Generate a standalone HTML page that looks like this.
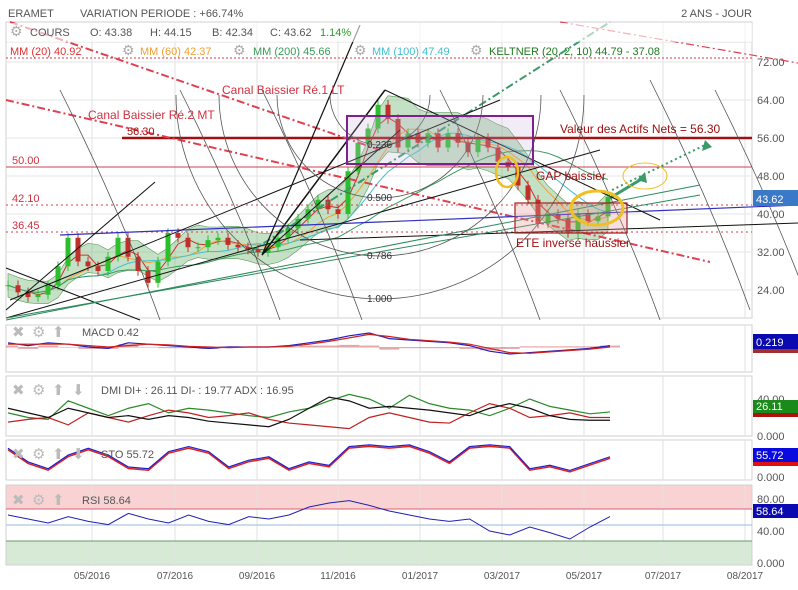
<!DOCTYPE html>
<html><head><meta charset="utf-8"><style>
body{margin:0;background:#fff}
svg{display:block;font-family:"Liberation Sans",Arial,sans-serif}
</style></head><body>
<svg id="c" width="798" height="590" viewBox="0 0 798 590" xmlns="http://www.w3.org/2000/svg">
<defs><clipPath id="pc"><rect x="6" y="22" width="746" height="544"/></clipPath></defs>
<text x="8" y="17" font-size="11" fill="#555">ERAMET</text>
<text x="80" y="17" font-size="11" fill="#555">VARIATION PERIODE : +66.74%</text>
<text x="752" y="17" font-size="11" fill="#555" text-anchor="end">2 ANS - JOUR</text>
<g id="grid"></g>
<g id="main"></g>
<g id="ind"></g>
</svg>
<script>
const closes=[25,23.5,22.5,23,25,29,35,30,29,28,31,35,31,28,25.5,30,36,35,33,33,34.5,35,33.5,33,32.5,32,33,35,37,39,41,43,41,40,49,55,58,63,60,54,57,55,57,54,57,55,53,56,54,51,50,46,43,38,40,39,36,40,38.5,39.5,43.6];
const priceTicks=[72,64,56,48,40,32,24];
const dateLabels=["05/2016","07/2016","09/2016","11/2016","01/2017","03/2017","05/2017","07/2017","08/2017"];
const macdLine=[0.3,0.1,0.3,0.2,0,-0.1,0.3,0.2,0.1,0,-0.1,0,0,0,0.1,0.3,0.5,0.8,1.0,0.6,0.5,0.4,0.3,0.1,-0.3,-0.5,-0.4,-0.3,-0.2,-0.1,0.1];
const macdSignal=[0.2,0.2,0.2,0.2,0.1,0,0.1,0.2,0.15,0.05,0,-0.05,0,0,0.05,0.2,0.4,0.65,0.9,0.75,0.55,0.45,0.35,0.2,-0.1,-0.4,-0.45,-0.35,-0.25,-0.15,0];
const diPlus=[25,20,18,38,30,22,30,35,25,30,28,25,22,20,26,30,38,45,40,30,44,35,30,28,22,30,40,32,28,24,26];
const diMinus=[15,18,20,12,25,20,15,22,28,25,20,22,25,18,14,12,10,8,20,25,20,15,14,25,35,30,20,22,25,20,20];
const adx=[30,25,20,30,25,20,22,18,22,20,16,14,12,10,18,30,42,38,30,32,30,28,25,22,30,35,30,22,18,17,17];
const sto=[80,40,20,60,80,60,25,20,70,85,70,25,45,55,20,40,30,85,90,85,90,70,40,85,90,85,20,30,15,35,55];
const rsi=[60,55,50,58,52,48,62,55,50,60,52,48,58,55,60,70,75,78,72,65,60,55,52,55,40,35,45,38,30,45,58];

const NS="http://www.w3.org/2000/svg";
function mk(par,tag,at,txt){const e=document.createElementNS(NS,tag);for(const k in at)e.setAttribute(k,at[k]);if(txt!==undefined)e.textContent=txt;par.appendChild(e);return e;}
const G=document.getElementById('grid'),M=document.getElementById('main'),I=document.getElementById('ind');
I.setAttribute('clip-path','url(#pc)');
const X0=6,X1=752;
const py=p=>62+(72-p)*4.75;
const cx=i=>8+i*10;
const ix=i=>8+i*(602/30);
const gridX=[92,175,257,338,420,502,584,663,745];

const panels=[[22,318],[325,372],[376,436],[440,480],[485,565]];
mk(G,'rect',{x:X0,y:485,width:X1-X0,height:24,fill:'#f9d3d3'});
mk(G,'rect',{x:X0,y:541,width:X1-X0,height:24,fill:'#d6ead6'});
panels.forEach(p=>{const r=mk(G,'rect',{x:X0,y:p[0],width:X1-X0,height:p[1]-p[0],fill:'none',stroke:'#d0d0d0'});
});
gridX.forEach(x=>panels.forEach(p=>mk(G,'line',{x1:x,x2:x,y1:p[0],y2:p[1],stroke:'#e2e2e2'})));
mk(G,'line',{x1:X0,x2:X1,y1:42,y2:42,stroke:'#e2e2e2'});
priceTicks.forEach(t=>{mk(G,'line',{x1:X0,x2:X1,y1:py(t),y2:py(t),stroke:'#e6e6e6'});
const l=mk(G,'text',{x:757,y:py(t)+4,'font-size':11,fill:'#555'},t.toFixed(2));
});
dateLabels.forEach((d,i)=>{const l=mk(G,'text',{x:gridX[i],y:579,'font-size':10,fill:'#555','text-anchor':'middle'},d);
});
[[399,40],[436,0],[477,0],[499,80],[531,40],[563,0]].forEach(a=>{
const l=mk(G,'text',{x:757,y:a[0]+4,'font-size':11,fill:'#555'},a[1].toFixed(a[1]===0?3:2));
});
mk(G,'line',{x1:X0,x2:X1,y1:509,y2:509,stroke:'#e06070'});
mk(G,'line',{x1:X0,x2:X1,y1:525,y2:525,stroke:'#9ab8e0'});
mk(G,'line',{x1:X0,x2:X1,y1:541,y2:541,stroke:'#6a9a6a'});

function ma(n){return closes.map((c,i)=>{let s=0,k=0;for(let j=Math.max(0,i-n+1);j<=i;j++){s+=closes[j];k++;}return s/k;});}
const band=ma(4);
let up=band.map((v,i)=>cx(i)+','+py(v*1.1)).join(' ');
let dn=band.map((v,i)=>cx(i)+','+py(v*0.9)).reverse().join(' ');
const bd=mk(M,'polygon',{points:up+' '+dn,fill:'rgba(110,180,110,0.4)',stroke:'#5a9a5a','stroke-width':0.6});

[[3,'#d03030','mm20-line'],[6,'#f0a030','mm60-line'],[10,'#40c0d0','mm100-line'],[20,'#3a9a5a','mm200-line']].forEach(m=>{
const v=ma(m[0]);const l=mk(M,'polyline',{points:v.map((y,i)=>cx(i)+','+py(y)).join(' '),fill:'none',stroke:m[1],'stroke-width':1});
});
closes.forEach((c,i)=>{const o=i?closes[i-1]:c;const x=cx(i);const hi=Math.max(o,c)+1,lo=Math.min(o,c)-1;
const col=c>=o?'#2cbf2c':'#c0302a';
mk(M,'line',{x1:x,x2:x,y1:py(hi),y2:py(lo),stroke:col});
const r=mk(M,'rect',{x:x-2.5,y:py(Math.max(o,c)),width:5,height:Math.max(1,Math.abs(py(o)-py(c))),fill:col});
});

function ln(x1,y1,x2,y2,st,w,da,name){const l=mk(M,'line',{x1,y1,x2,y2,stroke:st,'stroke-width':w||1});if(da)l.setAttribute('stroke-dasharray',da);
return l;}
ln(X0,58,X1,58,'#d04050',1,'2,2','resistance-72');
ln(X0,167,X1,167,'#d04050',1,null,'level-50');
ln(X0,205,X1,205,'#d04050',1,'2,3','level-42');
ln(X0,232,X1,232,'#d04050',1,'2,3','level-36');
ln(122,138,X1,138,'#a01010',2.5,null,'level-56-30');
ln(X0,100,710,262,'#e04050',2,'8,3,2,3','canal-re2-mt');
ln(10,22,380,150,'#e04050',2,'8,3,2,3','canal-re1-lt');
ln(560,22,798,63,'#e04050',1.2,'8,3,2,3','top-channel');
ln(250,252,610,22,'#3a9a6a',2,'8,3,2,3','green-channel');
ln(612,190,705,145,'#3a9a6a',2,'2,3','projection');
mk(M,'polygon',{points:'705,140 712,147 702,151',fill:'#3a9a6a'});
mk(M,'polygon',{points:'637,180 645,172 647,183',fill:'#3a9a6a'});
ln(610,198,640,180,'#3a9a6a',3);
ln(60,235,798,205,'#3030c0',1.2,null,'blue-trend');
ln(6,310,155,182,'#111',1);ln(6,268,140,320,'#111',1);
ln(6,318,600,150,'#111',1);ln(10,300,500,100,'#111',1);
ln(262,255,385,90,'#111',1.5);ln(262,255,360,25,'#111',1.2);ln(262,255,400,130,'#111',1);
ln(385,90,660,220,'#111',1);ln(300,240,798,223,'#111',1);
ln(6,320,700,185,'#2a8a5a',1);ln(6,318,700,195,'#2a8a5a',1);
const fc=[380,95];[50,103,161,204].forEach(r=>{const a=mk(M,'path',{d:`M${fc[0]-r},${fc[1]} A${r},${r} 0 0,0 ${fc[0]+r},${fc[1]}`,fill:'none',stroke:'#555','stroke-width':0.8});
});
[[60,90],[180,90],[262,90],[440,90],[560,90],[650,80],[715,90]].forEach(a=>{const p=mk(M,'path',{d:`M${a[0]},${a[1]} Q${a[0]+60},${a[1]+120} ${a[0]+100},${a[1]+230}`,fill:'none',stroke:'#555','stroke-width':0.8});
});
const rp=mk(M,'rect',{x:347,y:116,width:186,height:48,fill:'rgba(200,180,220,0.25)',stroke:'#802090','stroke-width':2});

const rr=mk(M,'rect',{x:515,y:203,width:112,height:30,fill:'rgba(230,150,150,0.3)',stroke:'#a02020','stroke-width':1.2});

[[507,172,11,15,2.5],[597,208,26,17,3],[645,176,22,13,1]].forEach(e=>{const el=mk(M,'ellipse',{cx:e[0],cy:e[1],rx:e[2],ry:e[3],fill:'none',stroke:'#f0c020','stroke-width':e[4]});
});
[[222,94,'Canal Baissier Ré.1 LT','#d03040',12],[88,119,'Canal Baissier Ré.2 MT','#d03040',12],[127,135,'56.30','#a01010',11],[12,164,'50.00','#d03040',11],[12,202,'42.10','#d03040',11],[12,229,'36.45','#d03040',11],
[560,133,'Valeur des Actifs Nets = 56.30','#a01010',12],[536,180,'GAP baissier','#a01010',12],[516,247,'ETE inversé haussier','#a01010',12],
[367,148,'0.236','#333',10],[367,201,'0.500','#333',10],[367,259,'0.786','#333',10],[367,302,'1.000','#333',10]].forEach(t=>{
const l=mk(M,'text',{x:t[0],y:t[1],'font-size':t[4],fill:t[3]},t[2]);});
mk(M,'rect',{x:X0+1,y:23,width:745,height:19,fill:'rgba(255,255,255,0.6)'});
[[10,36,'⚙','#aaa'],[30,36,'COURS','#555'],[90,36,'O: 43.38','#555'],[150,36,'H: 44.15','#555'],[212,36,'B: 42.34','#555'],[270,36,'C: 43.62','#555'],[320,36,'1.14%','#2a9a2a'],
[10,55,'MM (20)  40.92','#e03030'],[122,55,'⚙','#aaa'],[140,55,'MM (60)  42.37','#f0a030'],[233,55,'⚙','#aaa'],[253,55,'MM (200)  45.66','#3a9a5a'],[354,55,'⚙','#aaa'],[372,55,'MM (100)  47.49','#40c0d0'],[470,55,'⚙','#aaa'],[489,55,'KELTNER (20, 2, 10)  44.79 - 37.08','#207a20']].forEach(t=>{
const l=mk(M,'text',{x:t[0],y:t[1],'font-size':t[2]==='⚙'?14:11,fill:t[3]},t[2]);});
function box(y,h,txt,bg,name){const b=mk(M,'rect',{x:753,y,width:45,height:h,fill:bg});
mk(M,'text',{x:756,y:y+h-3,'font-size':11,fill:'#fff'},txt);}
box(190,16,'43.62','#3a78c8','current-price-box');

function series(arr,f,col,name,w){const l=mk(I,'polyline',{points:arr.map((v,i)=>ix(i)+','+f(v)).join(' '),fill:'none',stroke:col,'stroke-width':w||1.2});
}
const my=v=>347-v*14;
macdLine.forEach((v,i)=>{const h=v-macdSignal[i];const b=mk(I,'rect',{x:ix(i)-10,y:Math.min(my(h),347),width:20,height:Math.abs(h*14)+0.5,fill:'rgba(200,80,80,0.5)'});
});
series(macdLine,my,'#2020c0','macd-line');series(macdSignal,my,'#d02020','macd-signal');
const dy=v=>436-v*0.925;
series(diPlus,dy,'#2a8a2a','di-plus-line');series(diMinus,dy,'#c02020','di-minus-line');series(adx,dy,'#111','adx-line');
const sy=v=>477-v*0.34;
series(sto,sy,'#e02020','sto-signal',1.5);series(sto,v=>sy(v)-1.5,'#2020d0','sto-line',1.2);
const ry=v=>563-v*0.8;
series(rsi,ry,'#2020b0','rsi-line',1);
[[331,'MACD  0.42'],[389,'DMI  DI+ : 26.11 DI- : 19.77 ADX : 16.95'],[453,'STO  55.72'],[499,'RSI  58.64']].forEach((h,k)=>{
const y=h[0];['✖','⚙','⬆','⬇'].forEach((g,j)=>{if((k===0||k===3)&&j>2)return;const ic=mk(I,'text',{x:12+j*20,y:y+6,'font-size':15,fill:'#bbb'},g);
});
const l=mk(I,'text',{x:(k===0||k===3)?82:101,y:y+5,'font-size':11,fill:'#555'},h[1]);});
function ibox(y,h,txt,bg,name,under){if(under)mk(G,'rect',{x:753,y:y+h,width:45,height:4,fill:under});
const b=mk(G,'rect',{x:753,y,width:45,height:h,fill:bg});
mk(G,'text',{x:756,y:y+h-3,'font-size':11,fill:'#fff'},txt);}
ibox(334,15,'0.219','#0a0ab0','macd-value-box','#a03030');
ibox(400,13,'26.11','#1a8a1a','dmi-value-box','#b01010');
ibox(448,14,'55.72','#0a0ae0','sto-value-box','#e01010');
ibox(504,14,'58.64','#0a0ab0','rsi-value-box');
</script>
</body></html>
